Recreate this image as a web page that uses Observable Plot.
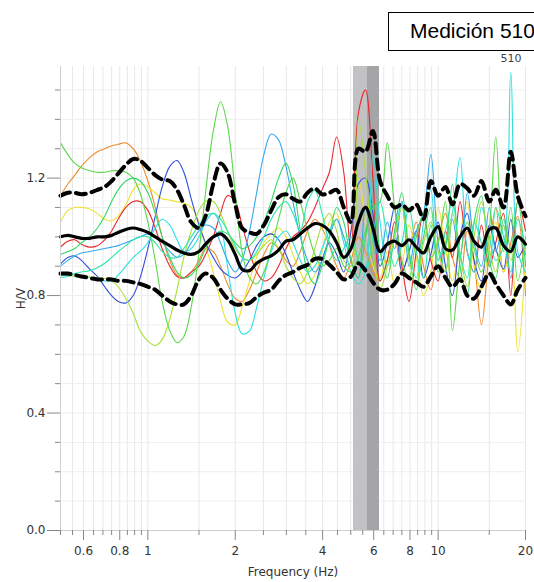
<!DOCTYPE html>
<html><head><meta charset="utf-8">
<script src="https://cdn.jsdelivr.net/npm/d3@7"></script>
<script src="https://cdn.jsdelivr.net/npm/@observablehq/plot@0.6"></script>
<style>
body{margin:0;overflow:hidden;background:#fff;}
#wrap{position:relative;width:534px;height:582px;overflow:hidden;}
#title{position:absolute;left:388px;top:12px;width:180px;height:39px;border:1.5px solid #000;box-sizing:border-box;font:21px "Liberation Sans",Arial,sans-serif;line-height:36px;padding-left:21px;white-space:nowrap;color:#000;background:#fff;}
</style></head><body><div id="wrap"><div id="title">Medición 510</div></div>
<script>
const freqs = [0.50,0.53,0.56,0.59,0.63,0.67,0.71,0.75,0.79,0.84,0.89,0.94,
  1.00,1.06,1.12,1.19,1.26,1.33,1.41,1.50,1.58,1.68,1.78,1.88,
  2.00,2.11,2.24,2.37,2.51,2.66,2.82,2.99,3.16,3.35,3.55,3.76,
  3.98,4.22,4.47,4.73,5.01,5.31,5.62,5.96,6.31,6.68,7.08,7.50,
  7.94,8.41,8.91,9.44,10.0,10.6,11.2,11.9,12.6,13.3,14.1,15.0,
  15.8,16.8,17.8,18.8,20.0];

const hvOrange = [1.14,1.18,1.21,1.24,1.27,1.29,1.30,1.31,1.315,1.32,1.30,1.26,
  1.19,1.10,1.00,0.92,0.87,0.86,0.88,0.92,0.96,0.95,0.90,0.84,
  0.79,0.78,0.82,0.88,0.94,0.98,0.96,0.92,0.90,0.95,1.02,1.06,
  1.03,0.97,0.90,0.86,0.92,1.00,0.95,0.88,0.85,0.92,1.00,0.88,
  0.95,1.05,0.90,0.82,0.98,1.08,0.93,0.86,1.02,0.92,0.70,0.95,
  1.10,0.88,0.98,1.07,0.80];
const hvYellow = [1.05,1.09,1.10,1.10,1.095,1.08,1.06,1.055,1.07,1.11,1.16,1.18,
  1.17,1.15,1.13,1.125,1.12,1.115,1.10,1.05,0.97,0.88,0.78,0.71,
  0.70,0.76,0.85,0.93,0.98,1.01,1.03,1.00,0.94,0.88,0.84,0.87,
  0.95,1.05,1.08,1.00,1.02,1.20,1.05,0.90,0.86,0.95,0.84,0.90,
  1.04,0.93,0.80,0.88,1.10,0.96,0.85,1.00,1.12,0.90,0.82,0.97,
  1.05,0.88,0.95,0.61,0.92];
const hvRed = [0.965,0.985,0.99,0.975,0.965,0.97,0.99,1.02,1.06,1.10,1.12,1.12,
  1.09,1.03,0.96,0.90,0.865,0.86,0.88,0.90,0.94,1.00,1.08,1.14,
  1.12,1.04,0.95,0.88,0.85,0.86,0.90,0.96,1.00,1.02,1.05,1.10,
  1.16,1.22,1.34,1.22,0.95,1.42,1.50,1.20,0.85,0.92,1.05,0.90,
  0.78,0.95,1.08,0.92,0.85,1.02,0.93,1.12,0.95,0.88,1.04,0.90,
  0.98,1.08,0.80,1.12,1.02];
const hvBlue = [0.908,0.93,0.935,0.92,0.89,0.865,0.83,0.80,0.78,0.775,0.80,0.86,
  0.96,1.07,1.17,1.24,1.26,1.22,1.13,1.04,0.98,0.93,0.89,0.87,
  0.86,0.88,0.92,0.97,1.00,1.01,0.99,0.94,0.88,0.82,0.78,0.83,
  0.92,0.98,0.94,0.88,1.02,1.18,1.20,1.08,0.90,0.98,1.10,0.88,
  0.95,1.02,0.86,0.94,1.05,0.90,0.80,1.00,1.08,0.92,0.85,1.04,
  0.96,0.89,1.06,0.93,0.98];
const hvCyan = [0.862,0.865,0.87,0.868,0.862,0.855,0.85,0.85,0.87,0.90,0.93,0.95,
  0.98,1.03,1.06,1.04,0.99,0.95,0.96,1.00,1.05,1.08,1.04,0.90,
  0.74,0.67,0.68,0.76,0.86,0.95,1.00,1.02,0.98,0.92,0.88,0.90,
  0.96,1.02,1.06,0.98,0.88,0.84,0.88,1.28,1.05,0.90,1.00,1.12,
  0.95,0.86,1.05,1.16,0.92,0.98,1.08,1.27,0.95,0.88,1.10,1.00,
  0.92,0.97,1.56,0.95,0.88];
const hvLightBlue = [0.90,0.92,0.935,0.945,0.95,0.955,0.96,0.965,0.97,0.98,0.99,1.00,
  1.01,1.00,0.98,0.95,0.93,0.94,0.98,1.02,1.04,1.03,0.98,0.92,
  0.88,0.92,1.02,1.15,1.28,1.35,1.33,1.24,1.12,1.00,0.92,0.88,
  0.92,1.00,1.06,1.00,0.92,0.86,1.10,1.00,0.92,1.05,0.96,1.12,
  0.90,1.02,1.08,1.28,0.98,0.88,1.06,0.93,1.15,0.98,0.90,1.10,
  0.95,1.04,0.86,1.00,0.94];
const hvGreenA = [1.32,1.28,1.25,1.235,1.225,1.22,1.22,1.225,1.225,1.22,1.20,1.15,
  1.05,0.92,0.78,0.68,0.64,0.66,0.76,0.95,1.15,1.36,1.46,1.38,
  1.15,0.95,0.86,0.84,0.88,0.96,1.06,1.15,1.20,1.12,1.02,0.94,
  0.90,0.92,0.96,0.90,0.88,0.93,1.02,1.10,1.12,1.32,1.10,0.92,
  0.86,1.00,1.08,0.93,0.98,1.12,0.68,0.92,1.05,0.96,0.88,1.02,
  1.34,0.95,1.10,0.85,1.00];
const hvGreenB = [0.94,0.95,0.96,0.98,1.00,1.03,1.07,1.12,1.16,1.19,1.20,1.19,
  1.15,1.08,1.00,0.93,0.88,0.86,0.87,0.91,0.96,1.00,1.02,1.01,
  0.98,0.96,0.97,1.00,1.05,1.12,1.20,1.25,1.18,1.02,0.88,0.84,
  0.90,1.00,1.10,1.05,0.92,0.86,1.00,1.12,0.95,0.86,1.02,1.15,
  0.94,0.82,1.00,1.10,0.88,0.96,1.18,0.90,0.80,1.05,1.14,0.92,
  0.86,1.06,0.96,1.12,0.90];
const hvLime = [0.87,0.868,0.866,0.865,0.863,0.86,0.858,0.85,0.83,0.79,0.74,0.68,
  0.645,0.63,0.65,0.72,0.82,0.93,1.02,1.09,1.12,1.12,1.08,1.02,
  0.96,0.93,0.92,0.94,0.97,0.99,0.96,0.90,0.86,0.84,0.88,0.96,
  1.04,1.08,1.02,0.92,0.90,1.40,1.22,0.95,0.82,0.90,1.00,1.10,
  0.92,0.84,0.98,1.05,0.95,0.88,1.08,0.94,0.83,1.00,1.12,0.96,
  0.88,1.04,0.92,1.00,0.95];
const hvTeal = [0.87,0.87,0.875,0.88,0.885,0.895,0.91,0.93,0.95,0.97,0.99,1.00,
  1.00,0.98,0.95,0.93,0.93,0.96,1.00,1.04,1.07,1.08,1.06,1.02,
  0.97,0.93,0.92,0.95,1.00,1.06,1.10,1.12,1.08,1.02,1.12,1.16,
  1.08,0.98,0.92,0.96,1.00,0.92,0.88,1.00,1.12,1.00,0.90,0.98,
  1.10,0.95,0.86,1.04,0.92,1.02,1.12,0.94,0.86,1.05,0.98,0.90,
  1.10,1.00,0.88,1.06,0.96];

const hvMean = [1.00,1.005,1.00,0.995,0.995,1.00,1.00,1.005,1.015,1.025,1.03,1.025,
  1.015,1.00,0.985,0.97,0.955,0.945,0.94,0.95,0.975,1.00,1.01,0.99,
  0.94,0.89,0.885,0.91,0.925,0.935,0.955,0.985,0.99,1.01,1.03,1.045,
  1.04,1.02,0.98,0.93,0.96,1.05,1.10,1.03,0.95,0.975,0.985,0.97,
  0.99,0.965,0.945,1.00,1.035,0.96,0.955,1.00,1.03,0.985,0.965,1.025,
  1.03,0.97,0.95,1.00,0.975];
const hvUpper = [1.14,1.15,1.15,1.145,1.15,1.16,1.17,1.19,1.215,1.245,1.265,1.26,
  1.235,1.21,1.195,1.19,1.16,1.11,1.05,1.03,1.07,1.18,1.25,1.22,
  1.11,1.03,1.015,1.01,1.04,1.09,1.135,1.145,1.13,1.12,1.15,1.165,
  1.145,1.15,1.16,1.10,1.05,1.30,1.29,1.36,1.19,1.14,1.10,1.11,
  1.09,1.11,1.06,1.19,1.14,1.17,1.11,1.18,1.165,1.14,1.19,1.12,
  1.16,1.10,1.29,1.14,1.07];
const hvLower = [0.875,0.875,0.87,0.865,0.86,0.855,0.855,0.855,0.85,0.85,0.845,0.84,
  0.83,0.82,0.80,0.78,0.77,0.77,0.80,0.855,0.875,0.86,0.82,0.79,
  0.77,0.77,0.775,0.795,0.81,0.82,0.85,0.87,0.88,0.895,0.905,0.925,
  0.925,0.905,0.88,0.855,0.865,0.91,0.885,0.845,0.82,0.82,0.84,0.875,
  0.86,0.845,0.83,0.865,0.90,0.86,0.83,0.855,0.80,0.79,0.83,0.875,
  0.84,0.80,0.77,0.82,0.86];

const seriesNames = ["orange","yellow","red","blue","cyan","lightblue","greenA","greenB","lime","teal"];
const seriesColors = ["#f08a2c","#ece232","#e8282c","#2f4fdc","#2ce0e0","#34a8f0","#5ad84a","#32d868","#a8e03a","#2ae8aa"];
const seriesValues = [hvOrange,hvYellow,hvRed,hvBlue,hvCyan,hvLightBlue,hvGreenA,hvGreenB,hvLime,hvTeal];

const xMajorTicks = [0.6,0.8,1,2,4,6,8,10,20];
const xMinorTicks = [0.5,0.55,0.65,0.7,0.75,0.85,0.9,0.95,1.5,2.5,3,3.5,4.5,5,5.5,6.5,7,7.5,8.5,9,9.5,15];
const yMajorTicks = [0,0.4,0.8,1.2];
const yMinorTicks = [0.1,0.2,0.3,0.5,0.6,0.7,0.9,1.0,1.1,1.3,1.4,1.5];
const yMax = 1.58;
const peakBand = [
  {f0: 5.11, f1: 6.28, color: "#c2c2c4"},
  {f0: 5.71, f1: 6.28, color: "#a5a5a8"}
];

const rows = [];
seriesValues.forEach((vals, k) => vals.forEach((v, i) => rows.push({f: freqs[i], hv: v, series: seriesNames[k], color: seriesColors[k]})));
const meanRows = freqs.map((f, i) => ({f, hv: hvMean[i]}));
const upperRows = freqs.map((f, i) => ({f, hv: hvUpper[i]}));
const lowerRows = freqs.map((f, i) => ({f, hv: hvLower[i]}));

const plot = Plot.plot({
  width: 534, height: 582,
  marginTop: 66, marginRight: 9, marginBottom: 52, marginLeft: 60,
  style: {fontFamily: "'DejaVu Sans', sans-serif", fontSize: "12px", color: "#333", background: "#fff"},
  x: {type: "log", domain: [0.5, 20]},
  y: {domain: [0, yMax]},
  marks: [
    Plot.gridX(xMinorTicks.concat(xMajorTicks), {stroke: "#e8e8e8", strokeOpacity: 1}),
    Plot.gridY(yMinorTicks.concat(yMajorTicks), {stroke: "#eeeeee", strokeOpacity: 1}),
    Plot.rect(peakBand, {x1: "f0", x2: "f1", y1: 0, y2: yMax, fill: "color"}),
    Plot.line(rows, {x: "f", y: "hv", z: "series", stroke: "color", strokeWidth: 1.1, curve: "catmull-rom"}),
    Plot.line(upperRows, {x: "f", y: "hv", stroke: "#000", strokeWidth: 4, strokeDasharray: "10,6", curve: "catmull-rom"}),
    Plot.line(lowerRows, {x: "f", y: "hv", stroke: "#000", strokeWidth: 4, strokeDasharray: "10,6", curve: "catmull-rom"}),
    Plot.line(meanRows, {x: "f", y: "hv", stroke: "#000", strokeWidth: 3.2, curve: "catmull-rom"}),
    Plot.ruleY([0], {stroke: "#d0d0d0"}),
    Plot.ruleX([0.5], {stroke: "#d0d0d0"}),
    Plot.axisX(xMajorTicks, {tickSize: 10, stroke: "#888", tickFormat: () => "", label: "Frequency (Hz)", labelAnchor: "center", labelArrow: "none", labelOffset: 45}),
    Plot.text(xMajorTicks, {x: d => d, text: d => String(d), frameAnchor: "bottom", dy: 21, lineAnchor: "middle", fontSize: 12, fill: "#333"}),
    Plot.axisX(xMinorTicks, {tickSize: 5, stroke: "#888", tickFormat: () => "", label: null}),
    Plot.axisY(yMajorTicks, {tickSize: 13, tickPadding: 2, stroke: "#888", tickFormat: d3.format(".1f"), fontSize: 12, label: "H/V", labelAnchor: "center", labelArrow: "none", labelOffset: 44}),
    Plot.axisY(yMinorTicks, {tickSize: 5, stroke: "#888", tickFormat: () => "", label: null}),
    Plot.text(["510"], {frameAnchor: "top-right", dx: -4, dy: -8, textAnchor: "end", lineAnchor: "middle", fontSize: 11, fill: "#444"})
  ]
});
document.getElementById("wrap").prepend(plot);
</script></body></html>
